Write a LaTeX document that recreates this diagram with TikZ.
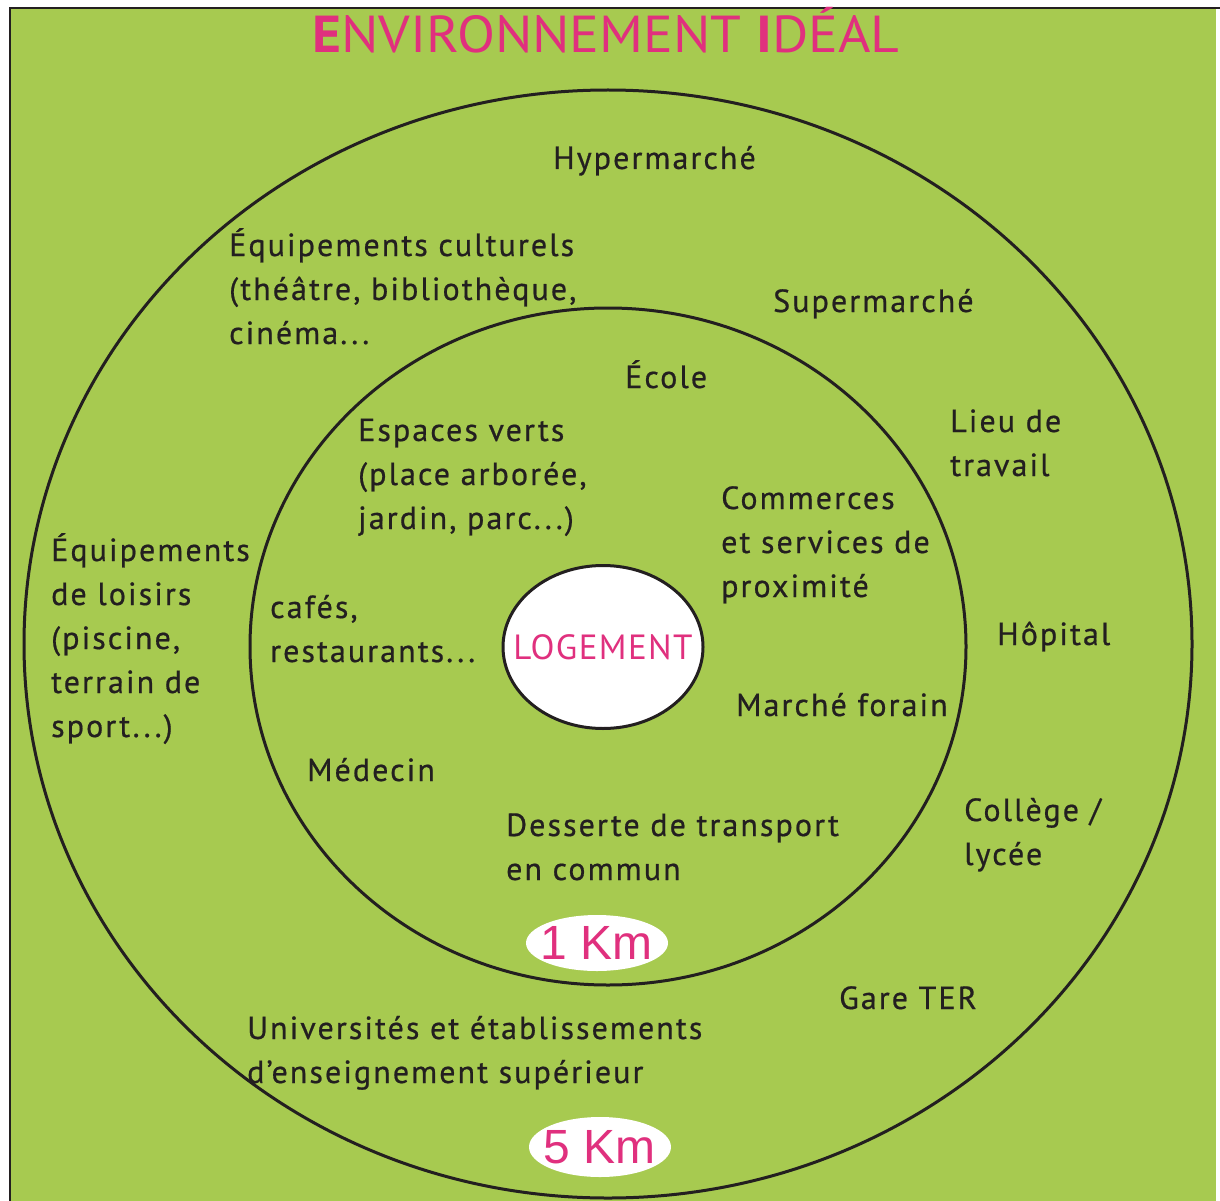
\documentclass[tikz,border=0pt]{standalone}
\usepackage{fontspec}
\usepackage{graphicx}
\setmainfont{PT Sans}
\newfontfamily\bodyfont[LetterSpace=6.5,FakeBold=0.6]{PT Sans}
\newfontfamily\homefont[LetterSpace=4]{PT Sans}
\newfontfamily\kmfont{Liberation Sans}
\usetikzlibrary{shapes.geometric}
\definecolor{bggreen}{HTML}{A7CA50}
\definecolor{pinkt}{HTML}{E0307E}
\definecolor{inkc}{HTML}{231F20}
\tikzset{
  ring/.style={ellipse, draw=inkc, line width=3pt, inner sep=0pt},
  lbl/.style={anchor=base west, align=left, text=inkc, inner sep=0pt,
    font=\bodyfont\fontsize{32}{44}\selectfont},
  kmback/.style={ellipse, fill=white, inner sep=0pt},
  kmtext/.style={inner sep=0pt, text=pinkt,
    font=\kmfont\fontsize{48}{48}\selectfont}
}
\begin{document}
\begin{tikzpicture}[x=1pt,y=-1pt]
\useasboundingbox (0,0) rectangle (1220,1201);
\fill[white] (0,0) rectangle (1220,1201);
\fill[bggreen] (10,9) rectangle (1216,1201);
\draw[line width=2pt, inkc] (10,1201) -- (10,8) -- (1220,8);
% title
\node[anchor=base, inner sep=0pt, text=pinkt] (title) at (606,53)
  {\resizebox{587pt}{\height}{\fontsize{52}{52}\selectfont\textbf{E}NVIRONNEMENT \textbf{I}DÉAL}};
% rings
\node[ring, minimum width=1168pt, minimum height=1108pt] (outer) at (608,644) {};
\node[ring, minimum width=716pt, minimum height=677pt] (inner) at (608,646.5) {};
\node[ring, fill=white, minimum width=200pt, minimum height=163pt] (home) at (603,647) {};
\node[inner sep=0pt, text=pinkt, font=\homefont\fontsize{35}{35}\selectfont] (hometext) at (home.center) {LOGEMENT};
% km labels
\node[kmback, minimum width=142pt, minimum height=56pt] (km1back) at (597,943) {};
\node[kmtext] (km1) at (km1back.center) {1 Km};
\node[kmback, minimum width=142pt, minimum height=60pt] (km5back) at (600,1147) {};
\node[kmtext] (km5) at (km5back.center) {5 Km};
% texts
\node[lbl] (hyper) at (553,169) {Hypermarché};
\node[lbl] (cult) at (229,344) {Équipements culturels\\(théâtre, bibliothèque,\\cinéma...};
\node[lbl] (super) at (773,312) {Supermarché};
\node[lbl] (ecole) at (625,388) {École};
\node[lbl] (travail) at (950,476) {Lieu de\\travail};
\node[lbl] (verts) at (358,529) {Espaces verts\\(place arborée,\\jardin, parc...)};
\node[lbl] (comm) at (721,597) {Commerces\\et services de\\proximité};
\node[lbl] (loisirs) at (51,737) {Équipements\\de loisirs\\(piscine,\\terrain de\\sport...)};
\node[lbl] (cafes) at (270,662) {cafés,\\restaurants...};
\node[lbl] (hopital) at (997,645) {Hôpital};
\node[lbl] (marche) at (736,716) {Marché forain};
\node[lbl] (medecin) at (307,781) {Médecin};
\node[lbl] (transport) at (506,880) {Desserte de transport\\en commun};
\node[lbl] (college) at (964,865) {Collège /\\lycée};
\node[lbl] (gare) at (839,1009) {Gare TER};
\node[lbl] (univ) at (247,1083) {Universités et établissements\\d’enseignement supérieur};
\end{tikzpicture}
\end{document}
